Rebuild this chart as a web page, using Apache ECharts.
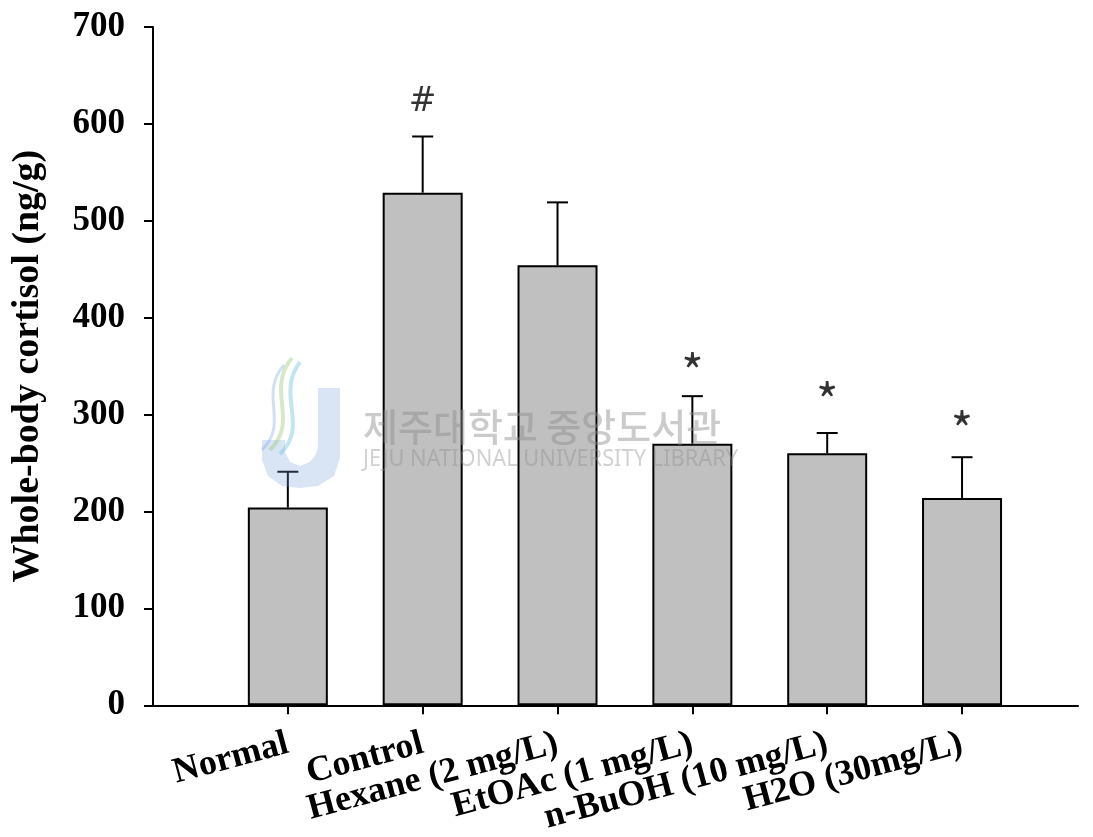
<!DOCTYPE html>
<html><head><meta charset="utf-8">
<script src="https://cdn.jsdelivr.net/npm/echarts@6/dist/echarts.min.js"></script>
<style>html,body{margin:0;padding:0;background:#fff}#c{width:1093px;height:837px}</style>
</head><body><div id="c"></div>
<script>
const categories = ['Normal', 'Control', 'Hexane (2 mg/L)', 'EtOAc (1 mg/L)', 'n-BuOH (10 mg/L)', 'H2O (30mg/L)'];
const cortisolMean = [204, 529, 454, 270, 260, 214];
const cortisolErr = [37, 58, 65, 49, 21, 42];
const markText = ['', '#', '', '*', '*', '*'];
const markValue = [null, 624, null, 357, 327, 297];
const yTickLabels = ['0', '100', '200', '300', '400', '500', '600', '700'];
const yAxisTitle = 'Whole-body cortisol (ng/g)';
const watermarkKo = '제주대학교 중앙도서관';
const watermarkEn = 'JEJU NATIONAL UNIVERSITY LIBRARY';

const positions = categories.map((c, i) => i + 1);
const xMax = 6.86;
const serif = '"Liberation Serif", "Times New Roman", serif';

const chart = echarts.init(document.getElementById('c'), null, {renderer: 'canvas'});
chart.setOption({
  backgroundColor: '#ffffff',
  animation: false,
  grid: {left: 153, right: 15, top: 27, bottom: 130, containLabel: false},
  xAxis: {
    type: 'value', min: 0, max: xMax, interval: 1,
    splitLine: {show: false},
    axisLine: {show: true, onZero: false, lineStyle: {color: '#000', width: 2}},
    axisTick: {show: true, length: 9, customValues: positions, lineStyle: {color: '#000', width: 2}},
    axisLabel: {
      show: true, customValues: [0].concat(positions, [xMax]), rotate: 15, margin: 38,
      hideOverlap: false,
      formatter: v => (Math.abs(v - Math.round(v)) < 1e-6 && v >= 1 && v <= 6) ? categories[Math.round(v) - 1] : '',
      fontFamily: serif, fontWeight: 'bold', fontSize: 36, color: '#000'
    }
  },
  yAxis: {
    type: 'value', min: 0, max: 700, interval: 100,
    name: yAxisTitle, nameLocation: 'middle', nameRotate: 90, nameGap: 106,
    nameTextStyle: {fontFamily: serif, fontWeight: 'bold', fontSize: 38, color: '#000'},
    splitLine: {show: false},
    axisLine: {show: true, lineStyle: {color: '#000', width: 2}},
    axisTick: {show: true, length: 9, lineStyle: {color: '#000', width: 2}},
    axisLabel: {
      margin: 28, fontFamily: serif, fontWeight: 'bold', fontSize: 35, color: '#000',
      formatter: v => yTickLabels[Math.round(v / 100)]
    }
  },
  series: [
    {
      type: 'bar', barWidth: 80, z: 2,
      itemStyle: {color: '#c0c0c0', borderColor: '#000', borderWidth: 2},
      data: cortisolMean.map((m, i) => [positions[i], m])
    },
    {
      type: 'custom', z: 3,
      renderItem: function (params, api) {
        const x = api.value(0), m = api.value(1), e = api.value(2);
        const base = api.coord([x, m]);
        const top = api.coord([x, m + e]);
        const hw = 10.5;
        return {type: 'group', children: [
          {type: 'line', shape: {x1: base[0], y1: base[1], x2: top[0], y2: top[1]}, style: {stroke: '#000', lineWidth: 2}},
          {type: 'line', shape: {x1: top[0] - hw, y1: top[1], x2: top[0] + hw, y2: top[1]}, style: {stroke: '#000', lineWidth: 2}}
        ]};
      },
      data: cortisolMean.map((m, i) => [positions[i], m, cortisolErr[i]])
    },
    {
      type: 'scatter', symbolSize: 0, z: 4, silent: true,
      data: markValue.map((v, i) => v === null ? null : {
        value: [positions[i], v],
        label: {
          show: true, position: 'inside', formatter: markText[i], color: '#000',
          fontFamily: markText[i] === '#' ? '"DejaVu Sans", sans-serif' : '"Noto Sans CJK KR", sans-serif',
          fontSize: markText[i] === '#' ? 33 : 48,
          offset: markText[i] === '#' ? [0, 2] : [0, 12]
        }
      }).filter(d => d !== null)
    }
  ],
  graphic: [
    {type: 'polygon', z: 100, silent: true, shape: {points: [[318,388],[340,388],[340,458],[334,476],[318,486],[300,488],[282,486],[268,476],[262,460],[262,440],[285,440],[285,452],[290,462],[300,466],[310,462],[316,454],[318,446]]},
      style: {fill: 'rgba(120,160,215,0.28)'}},
    {type: 'bezierCurve', z: 100, silent: true, shape: {x1: 292, y1: 358, cpx1: 265, cpy1: 390, cpx2: 300, cpy2: 420, x2: 270, y2: 450}, style: {stroke: 'rgba(150,200,120,0.4)', lineWidth: 4, fill: null}},
    {type: 'bezierCurve', z: 100, silent: true, shape: {x1: 300, y1: 362, cpx1: 275, cpy1: 395, cpx2: 310, cpy2: 425, x2: 280, y2: 454}, style: {stroke: 'rgba(100,190,220,0.4)', lineWidth: 4, fill: null}},
    {type: 'bezierCurve', z: 100, silent: true, shape: {x1: 284, y1: 365, cpx1: 258, cpy1: 395, cpx2: 290, cpy2: 422, x2: 262, y2: 450}, style: {stroke: 'rgba(120,170,230,0.35)', lineWidth: 3, fill: null}},
    {type: 'text', z: 100, silent: true, x: 363, y: 427, style: {text: watermarkKo, fill: 'rgba(140,140,140,0.45)', font: '500 38px "Noto Sans CJK KR"', textVerticalAlign: 'middle', textAlign: 'left'}},
    {type: 'text', z: 100, silent: true, x: 363, y: 459, scaleX: 0.91, style: {text: watermarkEn, fill: 'rgba(140,140,140,0.4)', font: '24px "Noto Sans"', textVerticalAlign: 'middle', textAlign: 'left'}}
  ]
});
</script>
</body></html>
